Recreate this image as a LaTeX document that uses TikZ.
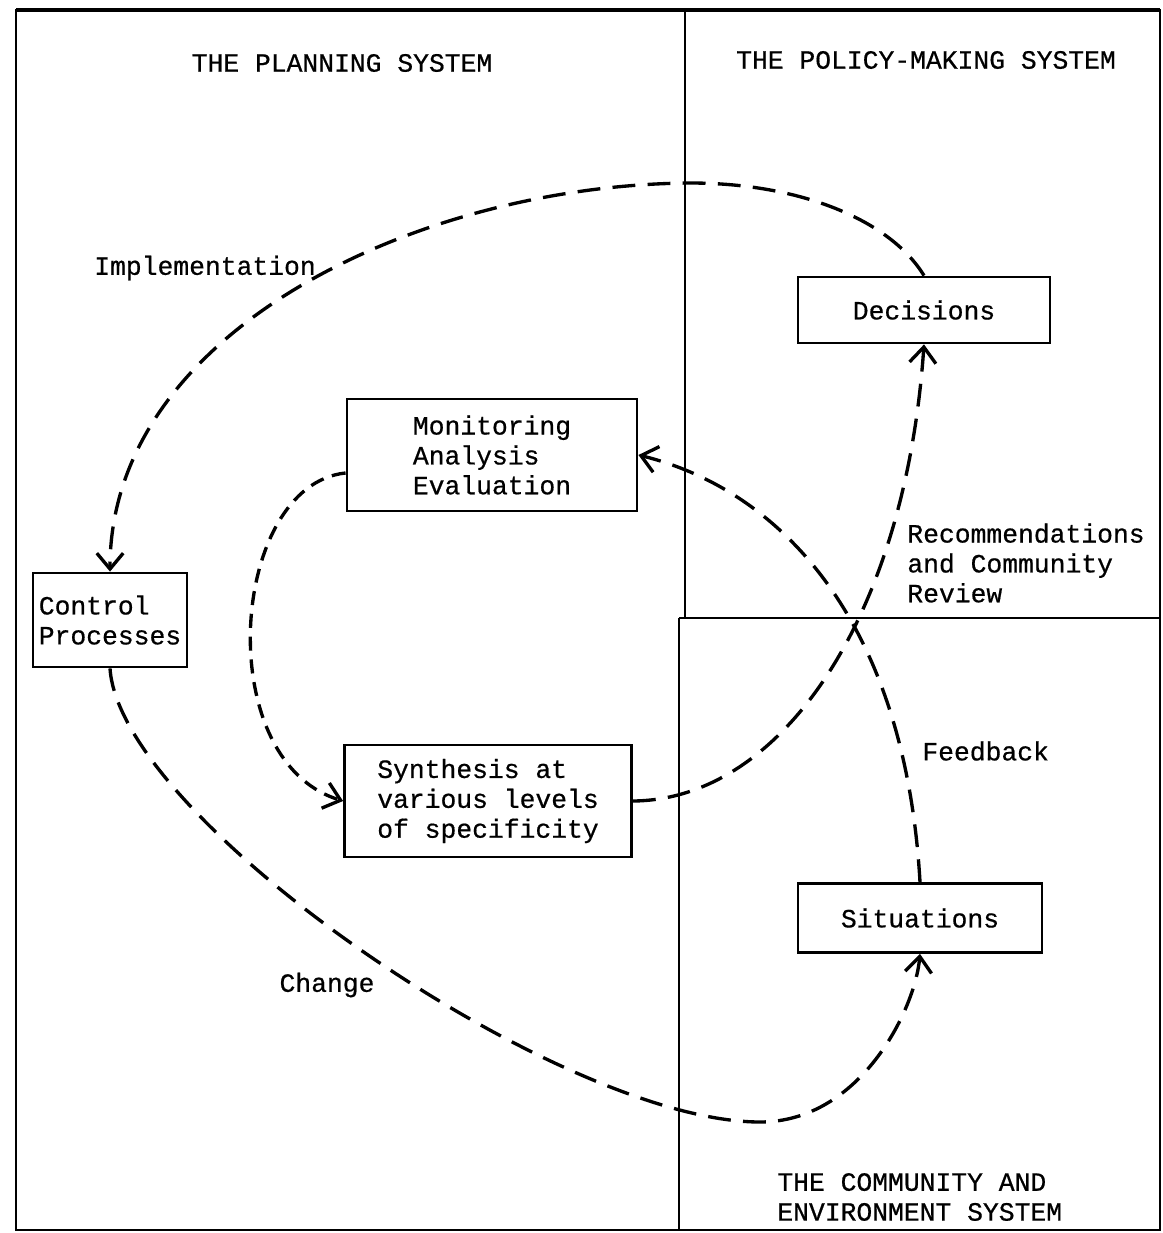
\documentclass[tikz,border=0pt]{standalone}
\usepackage{fontspec}
\setmonofont{Liberation Mono}[FakeBold=0.6]
\usetikzlibrary{arrows.meta}

\begin{document}
\begin{tikzpicture}[x=0.2mm, y=-0.2mm,
    font=\ttfamily\fontsize{15}{17}\selectfont,
    box/.style={draw, line width=1.6pt, align=left, inner sep=0pt},
    flow/.style={line width=1.9pt, dash pattern=on 13pt off 7pt,
        -{Straight Barb[length=9pt, width=15pt]}},
    txt/.style={align=left, inner sep=0pt}]
    \useasboundingbox (0,0) rectangle (1162,1233);

    % frame and the three systems
    \draw[line width=1.4pt] (16,10) rectangle (1160,1230);
    \draw[line width=2.4pt] (16,10) -- (1160,10);
    \draw[line width=1.4pt] (685,10) -- (685,618);
    \draw[line width=1.4pt] (679,618) -- (679,1230);
    \draw[line width=1.4pt] (679,618) -- (1160,618);

    \node [txt] (plan) at (342,63) {THE PLANNING SYSTEM};
    \node [txt] (policy) at (926,60) {THE POLICY-MAKING SYSTEM};
    \node [txt, anchor=west] (comm) at (777,1197) {THE COMMUNITY AND\\ENVIRONMENT SYSTEM};

    % boxes
    \node [box, minimum width=50.4mm, minimum height=13.2mm] (dec) at (924,310) {Decisions};
    \node [box, minimum width=58mm, minimum height=22.4mm] (mon) at (492,455) {Monitoring\\Analysis\\Evaluation};
    \node [box, minimum width=30.8mm, minimum height=18.8mm] (ctrl) at (110,620) {Control\\Processes};
    \node [box, minimum width=57.4mm, minimum height=22.4mm] (syn) at (488,801) {Synthesis at\\various levels\\of specificity};
    \node [box, minimum width=48.8mm, minimum height=13.8mm] (sit) at (920,918) {Situations};

    % loops
    \draw [flow] (dec.north) .. controls (890,220) and (800,183) .. (690,183)
        .. controls (420,185) and (110,330) .. (ctrl.north);
    \draw [flow] (ctrl.south) .. controls (120,820) and (560,1122) .. (760,1122)
        .. controls (860,1122) and (915,1010) .. (sit.south);
    \draw [flow] (sit.north) .. controls (905,620) and (780,490) .. (mon.east);
    \draw [flow] (syn.east) .. controls (780,800) and (905,620) .. (dec.south);
    \draw [flow, dash pattern=on 8pt off 5pt] (mon.187) .. controls (230,485) and (210,760) .. (syn.west);

    \node [txt] (impl) at (205,268) {Implementation};
    \node [txt, anchor=west] (rec) at (907,563) {Recommendations\\and Community\\Review};
    \node [txt, anchor=west] (fb) at (922,751) {Feedback};
    \node [txt] (chg) at (327,985) {Change};
\end{tikzpicture}
\end{document}
